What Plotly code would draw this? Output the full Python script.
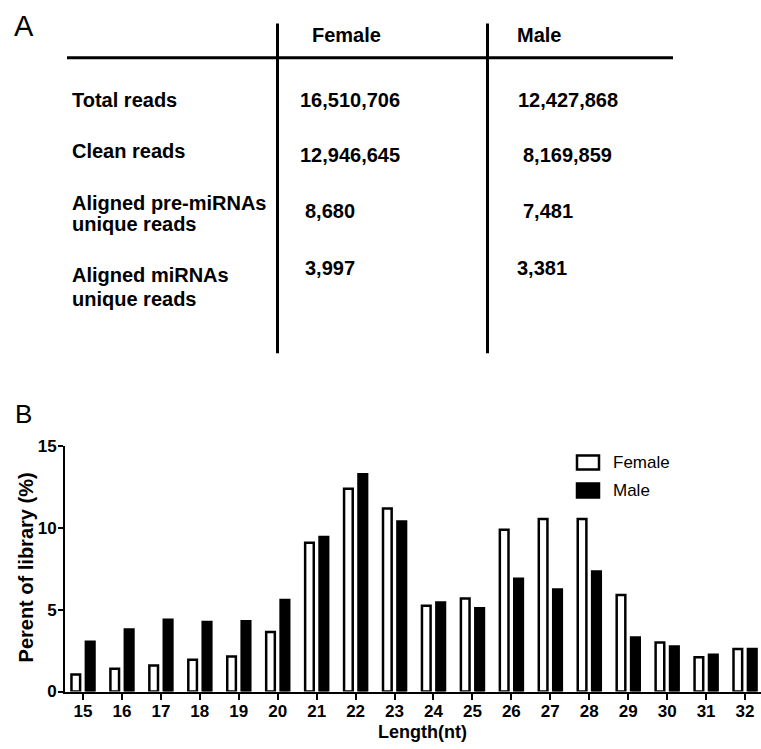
import plotly.graph_objects as go

# ---------------- data ----------------
lengths = [15, 16, 17, 18, 19, 20, 21, 22, 23, 24, 25, 26, 27, 28, 29, 30, 31, 32]
female_pct = [1.05, 1.4, 1.6, 1.95, 2.15, 3.65, 9.1, 12.4, 11.2, 5.25, 5.7, 9.9,
              10.55, 10.55, 5.9, 3.0, 2.1, 2.6]
male_pct = [3.05, 3.8, 4.4, 4.25, 4.3, 5.6, 9.45, 13.3, 10.4, 5.45, 5.1, 6.9,
            6.25, 7.35, 3.3, 2.75, 2.25, 2.6]
series_names = ["Female", "Male"]

table_headers = ["Female", "Male"]
row_labels = ["Total reads", "Clean reads",
              "Aligned pre-miRNAs\nunique reads", "Aligned miRNAs\nunique reads"]
female_counts = [16510706, 12946645, 8680, 3997]
male_counts = [12427868, 8169859, 7481, 3381]

W, H = 761, 749
FONT = "Liberation Sans, Arial, sans-serif"

# vertical calibration of the capture (observed = Y0 + KY * layout pixel)
Y0, KY = 8.9, 0.974


def px(x):
    return x / W


def ypix(p):
    return (p - Y0) / KY


def py(p):
    return 1 - ypix(p) / H


fig = go.Figure()
fig.add_trace(go.Bar(x=lengths, y=female_pct, name=series_names[0],
                     marker=dict(color="white", line=dict(color="black", width=2.5))))
fig.add_trace(go.Bar(x=lengths, y=male_pct, name=series_names[1],
                     marker=dict(color="black", line=dict(color="black", width=2.5))))

shapes = []
annotations = []

# ---------- panel A: table ----------
shapes.append(dict(type="line", xref="paper", yref="paper", x0=px(67), x1=px(673),
                   y0=py(57.5), y1=py(57.5), line=dict(color="black", width=3)))
for vx in [277.5, 487.5]:
    shapes.append(dict(type="line", xref="paper", yref="paper", x0=px(vx), x1=px(vx),
                       y0=py(23.5), y1=py(353), line=dict(color="black", width=3)))

tfont = dict(family=FONT, size=20, color="black", weight="bold")


def text(x, y, s, font, xanchor="left", **kw):
    annotations.append(dict(xref="paper", yref="paper", x=px(x), y=py(y), text=s,
                            showarrow=False, xanchor=xanchor, yanchor="middle",
                            font=font, **kw))


header_x = [310, 514.5]
for hx, h in zip(header_x, table_headers):
    text(hx, 34.5, h, tfont)

row_line_y = [[100], [151], [203, 224], [274.5, 299]]
for lab, ys in zip(row_labels, row_line_y):
    for line, yy in zip(lab.split("\n"), ys):
        text(70, yy, line, tfont)

val_y = [99.5, 155, 210.5, 267.5]
fem_x = [298, 298, 303, 303]
male_x = [516, 521, 521, 514.5]
for v, xx, yy in zip(female_counts, fem_x, val_y):
    text(xx, yy, f"{v:,}", tfont)
for v, xx, yy in zip(male_counts, male_x, val_y):
    text(xx, yy, f"{v:,}", tfont)

# panel letters
text(24, 26, "A", dict(family=FONT, size=29, color="black"), xanchor="center")
text(24, 414, "B", dict(family=FONT, size=26, color="black"), xanchor="center")

# ---------- panel B: legend ----------
lfont = dict(family=FONT, size=17, color="black")
shapes.append(dict(type="rect", xref="paper", yref="paper", x0=px(577), x1=px(599),
                   y0=py(455), y1=py(469), fillcolor="white",
                   line=dict(color="black", width=2.5)))
shapes.append(dict(type="rect", xref="paper", yref="paper", x0=px(577), x1=px(599),
                   y0=py(483), y1=py(497), fillcolor="black",
                   line=dict(color="black", width=2.5)))
text(611, 462, series_names[0], lfont)
text(611, 490, series_names[1], lfont)

# axis titles
atfont = dict(family=FONT, size=20, color="black", weight="bold")
text(25.5, 567.5, "Perent of library (%)", atfont, xanchor="center", textangle=-90)
text(422.5, 731.5, "Length(nt)", dict(family=FONT, size=18, color="black", weight="bold"),
     xanchor="center")

tick_font = dict(family=FONT, size=17, color="black", weight="bold")

fig.update_layout(
    width=W, height=H,
    margin=dict(l=0, r=0, t=0, b=0),
    paper_bgcolor="white", plot_bgcolor="white",
    barmode="group", bargap=0.26, bargroupgap=0.4,
    showlegend=False,
    shapes=shapes, annotations=annotations,
    xaxis=dict(domain=[px(65), 1], range=[14.538, 32.41], tickmode="array",
               tickvals=lengths, ticktext=[str(v) for v in lengths],
               showline=True, linecolor="black", linewidth=2,
               ticks="outside", ticklen=6, tickwidth=2, tickcolor="black",
               ticklabelstandoff=-3,
               showgrid=False, zeroline=False, tickfont=tick_font, fixedrange=True),
    yaxis=dict(domain=[py(691), py(446)], range=[0, 15], tickmode="array",
               tickvals=[0, 5, 10, 15], showline=True, linecolor="black", linewidth=2,
               ticks="outside", ticklen=5, tickwidth=2, tickcolor="black",
               ticklabelstandoff=-2,
               showgrid=False, zeroline=False, tickfont=tick_font, fixedrange=True),
)

fig.write_html(
    "out.html",
    config=dict(displayModeBar=False),
    post_script="document.body.style.margin='0';document.body.style.overflow='hidden';",
)
